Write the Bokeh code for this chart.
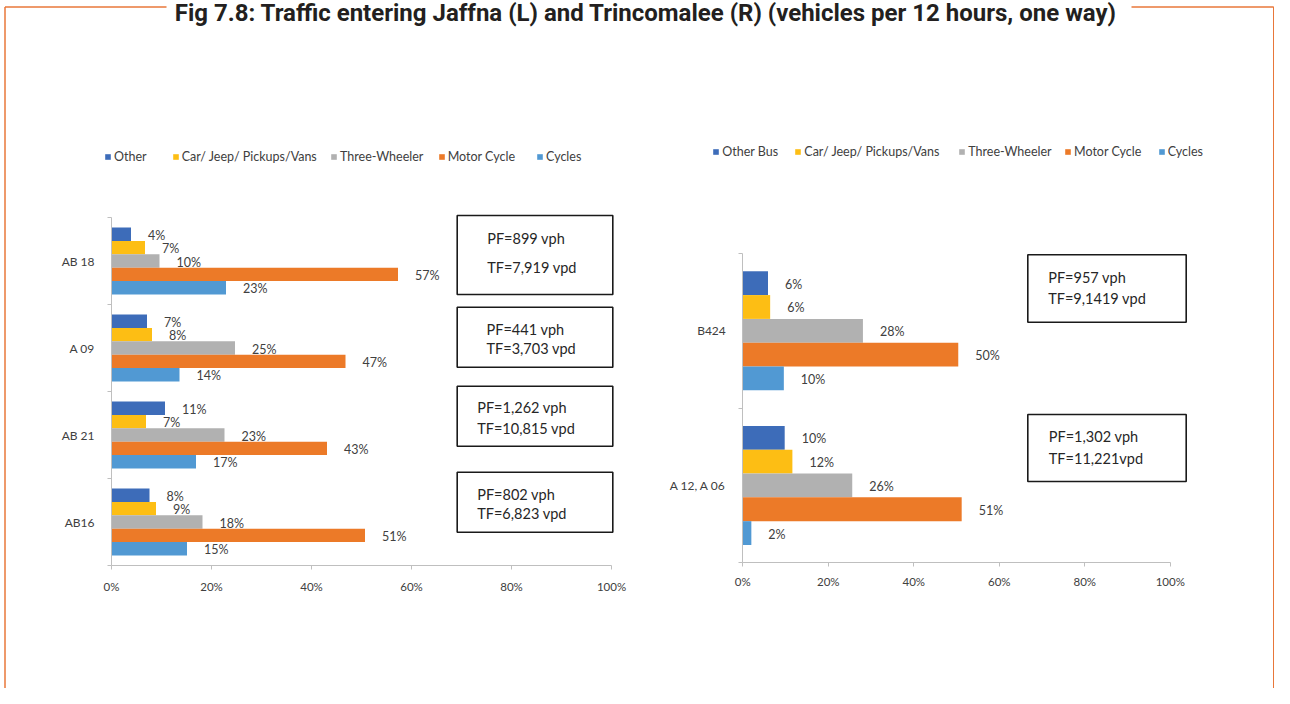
from bokeh.plotting import figure
from bokeh.models import (Range1d, LinearAxis, FixedTicker, Legend, LegendItem,
                          ColumnDataSource)
from bokeh.core.properties import value
from bokeh.embed import file_html
from bokeh.resources import INLINE

# ---------------- data ----------------
title_text = "Fig 7.8: Traffic entering Jaffna (L) and Trincomalee (R) (vehicles per 12 hours, one way)"

left_routes = ["AB 18", "A 09", "AB 21", "AB16"]
left_series = ["Other", "Car/ Jeep/ Pickups/Vans", "Three-Wheeler", "Motor Cycle", "Cycles"]
left_other = [3.9, 7.1, 10.7, 7.6]
left_car = [6.7, 8.1, 6.9, 8.9]
left_three = [9.6, 24.7, 22.6, 18.2]
left_motor = [57.3, 46.8, 43.1, 50.7]
left_cycles = [22.9, 13.6, 16.9, 15.1]
left_pf = ["PF=899 vph", "PF=441 vph", "PF=1,262 vph", "PF=802 vph"]
left_tf = ["TF=7,919 vpd", "TF=3,703 vpd", "TF=10,815 vpd", "TF=6,823 vpd"]

right_routes = ["B424", "A 12, A 06"]
right_series = ["Other Bus", "Car/ Jeep/ Pickups/Vans", "Three-Wheeler", "Motor Cycle", "Cycles"]
right_other = [5.9, 9.8]
right_car = [6.4, 11.6]
right_three = [28.1, 25.6]
right_motor = [50.4, 51.2]
right_cycles = [9.6, 2.0]
right_pf = ["PF=957 vph", "PF=1,302 vph"]
right_tf = ["TF=9,1419 vpd", "TF=11,221vpd"]

x_ticks = [0, 20, 40, 60, 80, 100]
x_tick_labels = ["0%", "20%", "40%", "60%", "80%", "100%"]

colors = ["#3D6CB9", "#FDBE14", "#B1B1B1", "#EC7A28", "#5199D3"]

# ---------------- figure ----------------
W, H = 1274, 688
FONT = "Lato"
TXT = "#404040"
AXC = "#BFBFBF"
BAR_H = 0.154

p = figure(width=W, height=H, x_range=Range1d(0, W), y_range=Range1d(H, 0),
           x_axis_type=None, y_axis_type=None, min_border=0,
           toolbar_location=None, output_backend="svg", outline_line_color=None)
p.background_fill_color = "white"
p.border_fill_color = "white"

# chart geometry (pixels): origin x, px per %, centre of first group, px per group
geo = {
    "L": dict(x0=111.0, ppp=5.0, y0=260.5, gpx=87.0),
    "R": dict(x0=742.3, ppp=4.275, y0=330.3, gpx=154.65),
}
p.extra_x_ranges = {k: Range1d(-g["x0"] / g["ppp"], (W - g["x0"]) / g["ppp"]) for k, g in geo.items()}
p.extra_y_ranges = {k: Range1d((H - g["y0"]) / g["gpx"], -g["y0"] / g["gpx"]) for k, g in geo.items()}


def chart(name, routes, series, values, xlab_standoff, legend_xs, legend_cy, standoff):
    n = len(series)
    rends = []
    for i, (vals, c) in enumerate(zip(values, colors)):
        ys = [k + (i - (n - 1) / 2) * BAR_H for k in range(len(routes))]
        src = ColumnDataSource(dict(y=ys, v=vals, lab=[f"{round(v)}%" for v in vals]))
        r = p.hbar(y="y", left=0, right="v", height=BAR_H, source=src, fill_color=c,
                   line_color=None, x_range_name=name, y_range_name=name)
        rends.append(r)
        p.text(x="v", y="y", text="lab", source=src, x_offset=17, y_offset=1,
               text_baseline="middle", text_align="left", text_font=value(FONT),
               text_font_size="12.5px", text_color=TXT, x_range_name=name, y_range_name=name)

    nr = len(routes)
    xa = LinearAxis(x_range_name=name, y_range_name=name, fixed_location=nr - 0.5,
                    bounds=(0, 100), ticker=FixedTicker(ticks=x_ticks),
                    major_label_overrides=dict(zip(x_ticks, x_tick_labels)))
    xa.axis_line_color = AXC
    xa.major_tick_line_color = AXC
    xa.major_tick_out = 4
    xa.major_tick_in = 0
    xa.major_label_standoff = xlab_standoff
    xa.major_label_text_font = FONT
    xa.major_label_text_font_size = "11.5px"
    xa.major_label_text_color = TXT
    p.add_layout(xa, "below")

    ya = LinearAxis(x_range_name=name, y_range_name=name, fixed_location=0,
                    bounds=(-0.5, nr - 0.5),
                    ticker=FixedTicker(ticks=list(range(nr)),
                                       minor_ticks=[k - 0.5 for k in range(nr + 1)]),
                    major_label_overrides={k: r for k, r in enumerate(routes)})
    ya.axis_line_color = AXC
    ya.major_tick_line_color = None
    ya.major_tick_out = 0
    ya.major_tick_in = 0
    ya.minor_tick_line_color = AXC
    ya.minor_tick_out = 4
    ya.minor_tick_in = 0
    ya.major_label_standoff = standoff
    ya.major_label_text_font = FONT
    ya.major_label_text_font_size = "12px"
    ya.major_label_text_color = TXT
    p.add_layout(ya, "left")

    for lx, lab, r in zip(legend_xs, series, rends):
        lg = Legend(items=[LegendItem(label=lab, renderers=[r])],
                    location=(lx, H - (legend_cy + 7)), orientation="horizontal",
                    padding=0, margin=0, spacing=0, glyph_width=7, glyph_height=7,
                    label_standoff=3, label_height=14, label_text_font=FONT,
                    label_text_font_size="12.5px", label_text_color=TXT,
                    border_line_color=None, background_fill_alpha=0)
        p.add_layout(lg)


chart("L", left_routes, left_series,
      [left_other, left_car, left_three, left_motor, left_cycles],
      10, [104, 171.7, 330, 437.7, 536], 156.5, 13)
chart("R", right_routes, right_series,
      [right_other, right_car, right_three, right_motor, right_cycles],
      8, [712.3, 794.3, 958.3, 1064, 1157.7], 151.5, 13)

# ---------------- PF/TF boxes ----------------
box_l = dict(left=[456.7] * 4, right=[612.3] * 4,
             top=[215, 306.7, 385.7, 471.7], bottom=[294, 366.7, 445.7, 531.7])
box_r = dict(left=[1027.3] * 2, right=[1185.7] * 2, top=[254.3, 414], bottom=[321.7, 481])
for b in (box_l, box_r):
    p.quad(source=ColumnDataSource(b), left="left", right="right", top="top", bottom="bottom",
           fill_color=None, line_color="#1A1A1A", line_width=1.6)

pf_x = [486.7, 486, 476.7, 476.7, 1047.7, 1048.3]
pf_y = [237.7, 329.3, 406.7, 494.3, 276.7, 435.7]
tf_y = [266.7, 347.7, 428.3, 513.3, 297.7, 458.3]
p.text(x=pf_x + pf_x, y=pf_y + tf_y, text=left_pf + right_pf + left_tf + right_tf,
       text_baseline="middle", text_align="left", text_font=value(FONT),
       text_font_size="14.5px", text_color="#262626")

# ---------------- frame + title ----------------
p.multi_line(xs=[[4.5, 4.5], [4.5, 166], [1131, 1273.25], [1273.25, 1273.25]],
             ys=[[H, 6.5], [6.5, 6.5], [6.5, 6.5], [6.5, H]],
             line_color="#E8773A", line_width=1.5)
p.text(x=[645.5], y=[12], text=[title_text], text_align="center",
       text_baseline="alphabetic", text_font=value("Roboto"),
       text_font_style="bold", text_font_size="24px", text_color="#231F20")

open("out.html", "w").write(file_html(p, INLINE))
